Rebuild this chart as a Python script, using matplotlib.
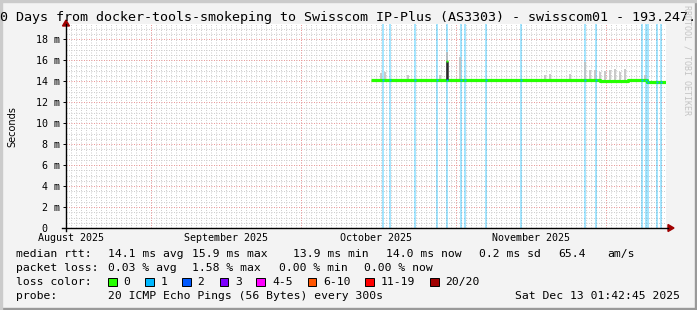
import matplotlib
matplotlib.use("Agg")
import matplotlib.pyplot as plt
from matplotlib.lines import Line2D
from matplotlib.patches import Rectangle, Polygon
import numpy as np
import pandas as pd

W, H, DPI = 697, 310, 100
MONO = "DejaVu Sans Mono"

t_start = pd.Timestamp("2025-08-15 01:42:45")
t_end = pd.Timestamp("2025-12-13 01:42:45")

# median rtt (ms), step values
median_dates = ["2025-10-15 01:30", "2025-10-17 12:00", "2025-10-20 00:00", "2025-10-22 12:00",
                "2025-10-26 00:00", "2025-10-30 09:00", "2025-11-04 00:00", "2025-11-09 00:00",
                "2025-11-14 00:00", "2025-11-19 00:00", "2025-11-24 00:00", "2025-11-27 12:00",
                "2025-11-29 20:00", "2025-12-05 12:00", "2025-12-09 08:00", "2025-12-13 01:40"]
median_ms = [14.12, 14.16, 14.13, 14.17, 14.15, 14.08, 14.10, 14.12,
             14.15, 14.17, 14.15, 14.08, 14.05, 14.15, 13.95, 13.95]

# the one high sample
spike_date = "2025-10-30 08:00"
spike_low, spike_high, spike_smoke = 14.1, 15.9, 16.8

# smoke peaks above the median
smoke_dates = ["2025-10-17 00:00", "2025-10-17 20:40", "2025-10-22 12:30", "2025-10-28 20:40",
               "2025-11-01 20:40", "2025-11-18 20:40", "2025-11-19 20:40", "2025-11-23 20:40",
               "2025-11-26 20:40", "2025-11-27 20:40", "2025-11-28 20:40", "2025-11-29 20:40",
               "2025-11-30 20:40", "2025-12-01 20:40", "2025-12-02 20:40", "2025-12-03 20:40",
               "2025-12-04 20:40", "2025-12-08 20:40"]
smoke_top_ms = [14.8, 14.9, 14.6, 14.6, 16.3, 14.65, 14.7, 14.7,
                15.8, 15.1, 15.1, 14.9, 15.0, 15.1, 15.2, 14.9, 15.2, 14.6]

# samples with 1/20 loss
loss_dates = ["2025-10-17 12:30", "2025-10-18 23:00", "2025-10-23 23:00", "2025-10-28 07:40",
              "2025-10-30 08:40", "2025-11-02 01:30", "2025-11-02 19:00", "2025-11-07 02:30",
              "2025-11-14 04:00", "2025-11-26 20:40", "2025-11-29 04:00", "2025-12-08 08:40",
              "2025-12-09 01:30", "2025-12-09 11:00", "2025-12-11 06:00", "2025-12-12 01:30"]

month_labels = ["August 2025", "September 2025", "October 2025", "November 2025"]
month_label_dates = ["2025-08-16", "2025-09-16", "2025-10-16", "2025-11-16"]
yticks = [0, 2, 4, 6, 8, 10, 12, 14, 16, 18]
ytick_labels = ["0  "] + [f"{v} m" for v in yticks[1:]]

loss_colors = ["#26ff00", "#00b8ff", "#0059ff", "#7e00ff", "#ff00ff", "#ff5500", "#ff0000", "#a00000"]
loss_labels = ["0", "1", "2", "3", "4-5", "6-10", "11-19", "20/20"]
loss_box_x = [108, 145, 182, 219.5, 256.4, 307.6, 365, 430]

rtt_stats = ["14.1 ms avg", "15.9 ms max", "13.9 ms min", "14.0 ms now", "0.2 ms sd", "65.4", "am/s"]
rtt_x = [107.6, 192.4, 293.3, 386.2, 479, 557.8, 607.5]
loss_stats = ["0.03 % avg", "1.58 % max", "0.00 % min", "0.00 % now"]
loss_x = [107.6, 192.4, 279, 364.4]


def fx(x):
    return x / W


def fy(y):
    return 1 - y / H


fig = plt.figure(figsize=(W / DPI, H / DPI), dpi=DPI, facecolor="#f3f3f3")
ax = fig.add_axes([fx(66), fy(228), 600 / W, 204 / H])
ax.set_facecolor("white")
ax.set_xlim(t_start, t_end)
ax.set_ylim(0, 19.47)
for s in ax.spines.values():
    s.set_visible(False)

# grid
dots = (0, (1, 1.5))
for d in pd.date_range(t_start.ceil("D"), t_end, freq="D"):
    ax.axvline(d, color="#cfcfcf", lw=0.72, ls=dots, zorder=0)
for v in np.arange(0.5, 19.5, 0.5):
    if v % 2:
        ax.axhline(v, color="#cfcfcf", lw=0.72, ls=dots, zorder=0)
for d in pd.date_range("2025-09-01", t_end, freq="MS"):
    ax.axvline(d, color="#eb9a9a", lw=0.72, ls=dots, zorder=1)
for v in yticks[1:]:
    ax.axhline(v, color="#eb9a9a", lw=0.72, ls=dots, zorder=1)

# loss background
ld = pd.to_datetime(loss_dates)
for d in ld:
    ax.axvline(d, color="#00b8ff", alpha=0.35, lw=1.44, zorder=2)

# smoke
ax.vlines(pd.to_datetime(smoke_dates), 14.0, smoke_top_ms, color="#c0c0c0", lw=1.2, zorder=3)
ax.vlines(pd.Timestamp(spike_date), spike_low, spike_smoke, color="#b8b8b8", lw=1.2, zorder=3)

# median
md = pd.to_datetime(median_dates)
ax.plot(md, median_ms, drawstyle="steps-post", color="#26ff00", lw=2.3,
        solid_capstyle="butt", zorder=4)
ax.vlines(pd.Timestamp(spike_date), spike_low, spike_high, color="#2a2a2a", lw=1.8, zorder=5)
ax.plot([pd.Timestamp(spike_date)], [spike_high], "s", ms=1.6, color="#26ff00", mec="none", zorder=6)
idx = np.searchsorted(md.values, ld.values, side="right") - 1
ax.plot(ld, np.array(median_ms)[idx], "s", ms=1.8, color="#00b8ff", mec="none", zorder=6)

# ticks
ax.set_xticks(pd.to_datetime(month_label_dates), month_labels, family=MONO, fontsize=7.2)
ax.tick_params(axis="x", length=0, pad=3.5)
ax.set_yticks(yticks, ytick_labels, family=MONO, fontsize=7.2)
ax.tick_params(axis="y", length=2.2, pad=2.2, width=0.7)
ax.minorticks_off()

# axes with arrows
fig.add_artist(Line2D([fx(62), fx(668)], [fy(228), fy(228)], color="black", lw=1))
fig.add_artist(Line2D([fx(66), fx(66)], [fy(231), fy(24)], color="black", lw=1))
fig.add_artist(Polygon([[fx(668), fy(224.5)], [fx(674), fy(228)], [fx(668), fy(231.5)]],
                       closed=True, color="#a00000"))
fig.add_artist(Polygon([[fx(62.5), fy(26)], [fx(66), fy(20)], [fx(69.5), fy(26)]],
                       closed=True, color="#a00000"))

# texts
fig.text(fx(0), fy(18), "0 Days from docker-tools-smokeping to Swisscom IP-Plus (AS3303) - swisscom01 - 193.247.",
         family=MONO, fontsize=9.6, ha="left", va="center")
fig.text(fx(12), fy(127), "Seconds", family="DejaVu Sans", fontsize=7, rotation=90,
         ha="center", va="center")
fig.text(fx(687), fy(60), "RRDTOOL / TOBI OETIKER", family=MONO, fontsize=6, rotation=270,
         ha="center", va="center", color="#c4c4c4")

fs = 8.2
fig.text(fx(16.4), fy(254), "median rtt:", family=MONO, fontsize=fs, va="center")
for s, x in zip(rtt_stats, rtt_x):
    fig.text(fx(x), fy(254), s, family=MONO, fontsize=fs, va="center")
fig.text(fx(16.4), fy(268), "packet loss:", family=MONO, fontsize=fs, va="center")
for s, x in zip(loss_stats, loss_x):
    fig.text(fx(x), fy(268), s, family=MONO, fontsize=fs, va="center")
fig.text(fx(16.4), fy(282), "loss color:", family=MONO, fontsize=fs, va="center")
for c, lab, x in zip(loss_colors, loss_labels, loss_box_x):
    fig.add_artist(Rectangle((fx(x), fy(286)), 8.5 / W, 8 / H, facecolor=c,
                             edgecolor="black", lw=0.7))
    fig.text(fx(x + 15.6), fy(282), lab, family=MONO, fontsize=fs, va="center")
fig.text(fx(16.4), fy(296), "probe:", family=MONO, fontsize=fs, va="center")
fig.text(fx(107.6), fy(296), "20 ICMP Echo Pings (56 Bytes) every 300s", family=MONO,
         fontsize=fs, va="center")
fig.text(fx(680), fy(296), "Sat Dec 13 01:42:45 2025", family=MONO, fontsize=fs,
         va="center", ha="right")

# frame shading
fig.add_artist(Rectangle((0, 0), 1, 2 / H, color="#999999"))
fig.add_artist(Rectangle((1 - 2 / W, 0), 2 / W, 1, color="#999999"))
fig.add_artist(Rectangle((0, 1 - 2 / H), 1, 2 / H, color="#cbcbcb"))
fig.add_artist(Rectangle((0, 0), 2 / W, 1, color="#cbcbcb"))

fig.savefig("out.png", dpi=DPI, facecolor=fig.get_facecolor())
